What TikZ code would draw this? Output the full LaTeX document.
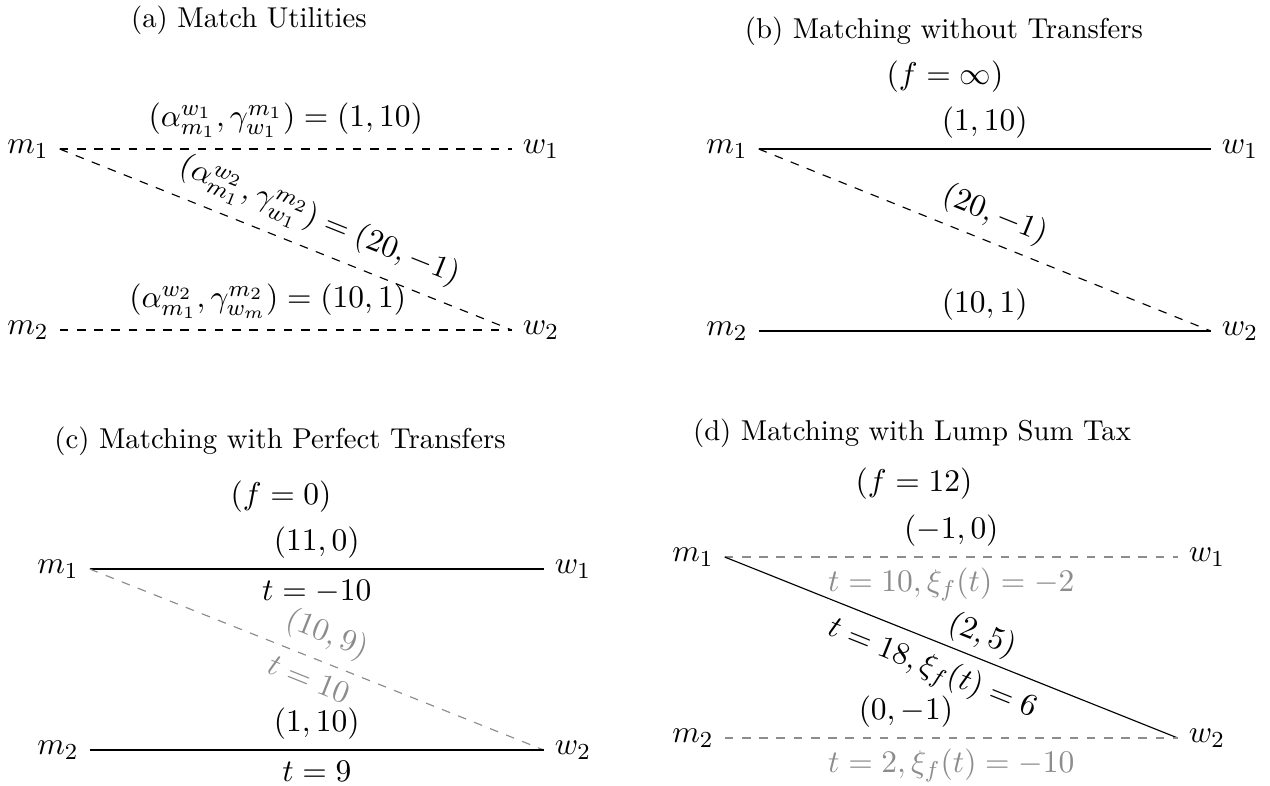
\documentclass[tikz,border=0pt,11pt]{standalone}
\usepackage{amsmath,amssymb}
\usepackage{xcolor}
\usepackage{tikz}
\usetikzlibrary{positioning}

\colorlet{faded}{black!45}

\begin{document}
\begin{tikzpicture}[
    x=0.348pt, y=-0.348pt,
    subcap/.style={font=\small},
    tie/.style={dashed},
    weak/.style={dashed, faded},
    lab/.style={inner sep=2pt}
]
    \useasboundingbox (0,0) rectangle (1270,785);

    % (a) match utilities
    \node[subcap] (capa) at (249,20) {(a) Match Utilities};
    \node (am1) at (28,149) {$m_1$};
    \node (aw1) at (541,149) {$w_1$};
    \node (am2) at (28,330) {$m_2$};
    \node (aw2) at (541,330) {$w_2$};
    \draw[tie] (am1.east) -- node[above] {$(\alpha^{w_1}_{m_1},\gamma^{m_1}_{w_1}) = (1,10)$} (aw1.west);
    \draw[tie] (am1.east) -- node[above, sloped, pos=0.55] {$(\alpha^{w_2}_{m_1},\gamma^{m_2}_{w_1}) = (20,-1)$} (aw2.west);
    \draw[tie] (am2.east) -- node[above, pos=0.46] {$(\alpha^{w_2}_{m_1},\gamma^{m_2}_{w_m}) = (10,1)$} (aw2.west);

    % (b) no transfers
    \node[subcap] (capb) at (944,31) {(b) Matching without Transfers};
    \node (bf) at (945,77) {$(f = \infty)$};
    \node (bm1) at (727,149) {$m_1$};
    \node (bw1) at (1240,149) {$w_1$};
    \node (bm2) at (727,331) {$m_2$};
    \node (bw2) at (1240,331) {$w_2$};
    \draw (bm1.east) -- node[above] {$(1,10)$} (bw1.west);
    \draw[tie] (bm1.east) -- node[above, sloped] {$(20,-1)$} (bw2.west);
    \draw (bm2.east) -- node[above] {$(10,1)$} (bw2.west);

    % (c) perfect transfers
    \node[subcap] (capc) at (280,441) {(c) Matching with Perfect Transfers};
    \node (cf) at (281,497) {$(f = 0)$};
    \node (cm1) at (58,569) {$m_1$};
    \node (cw1) at (573,569) {$w_1$};
    \node (cm2) at (58,750) {$m_2$};
    \node (cw2) at (573,750) {$w_2$};
    \draw (cm1.east) -- node[above] {$(11,0)$} node[below] {$t = -10$} (cw1.west);
    \draw[weak] (cm1.east) -- node[above, sloped, faded] {$(10,9)$} node[below, sloped, faded] {$t = 10$} (cw2.west);
    \draw (cm2.east) -- node[above] {$(1,10)$} node[below] {$t = 9$} (cw2.west);

    % (d) lump sum tax
    \node[subcap] (capd) at (912,433) {(d) Matching with Lump Sum Tax};
    \node (df) at (914,484) {$(f = 12)$};
    \node (dm1) at (693,557) {$m_1$};
    \node (dw1) at (1207,557) {$w_1$};
    \node (dm2) at (693,738) {$m_2$};
    \node (dw2) at (1207,738) {$w_2$};
    \draw[weak] (dm1.east) -- node[above, black] {$(-1,0)$} node[below, faded] {$t = 10, \xi_f(t) = -2$} (dw1.west);
    \draw (dm1.east) -- node[above, sloped, pos=0.55, lab] {$(2,5)$} node[below, sloped, pos=0.48] {$t = 18, \xi_f(t) = 6$} (dw2.west);
    \draw[weak] (dm2.east) -- node[above, black, pos=0.4] {$(0,-1)$} node[below, faded] {$t = 2, \xi_f(t) = -10$} (dw2.west);
\end{tikzpicture}
\end{document}
